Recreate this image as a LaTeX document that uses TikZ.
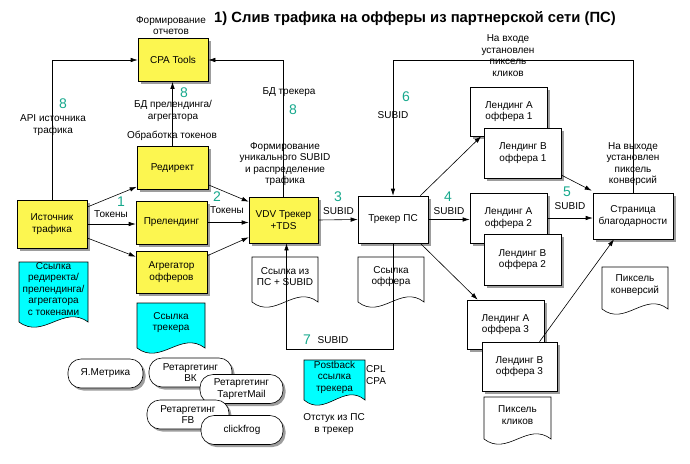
\documentclass[tikz,border=0pt]{standalone}
\usepackage{fontspec}
\setmainfont{Liberation Sans}
\usetikzlibrary{arrows.meta,shadows}

\definecolor{boxyellow}{RGB}{252,246,80}
\definecolor{linkcyan}{RGB}{0,255,255}
\definecolor{numgreen}{RGB}{22,168,140}

\tikzset{
  base/.style={draw, align=center, inner sep=1pt, line width=0.6pt,
    drop shadow={shadow xshift=2.5pt, shadow yshift=-2.5pt, fill=black!70, opacity=0.55}},
  ybox/.style={base, fill=boxyellow, minimum width=71pt, minimum height=44pt},
  wbox/.style={base, fill=white, minimum width=77pt, minimum height=50pt},
  pill/.style={base, fill=white, rounded corners=13pt, minimum width=83pt, minimum height=29pt},
  lbl/.style={align=center, inner sep=0pt},
  num/.style={text=numgreen, inner sep=0pt, font=\fontsize{14}{14}\selectfont},
  link/.style={line width=0.6pt, -{Latex[length=7pt,width=4.5pt]}},
  wire/.style={line width=0.6pt},
}

% document sheet with a wavy lower edge
\newcommand{\docsheet}[7]{%
  \pgfmathsetmacro\dxa{#2+0.35*(#4-#2)}
  \pgfmathsetmacro\dxb{#4-0.35*(#4-#2)}
  \pgfmathsetmacro\dym{(#3+#5)/2-3}
  \filldraw[wire, fill=#6] (#2,#3) -- (#4,#3) -- (#4,#5)
    .. controls (\dxb,#5-18) and (\dxa,#5+18) .. (#2,#5) -- cycle;
  \node[lbl] (#1) at ({(#2+#4)/2},\dym) {#7};
}

\begin{document}
\begin{tikzpicture}[x=1pt, y=-1pt, font=\fontsize{10}{11.5}\selectfont]
  \useasboundingbox (0,0) rectangle (690,463);

  \node[lbl, font=\fontsize{14.8}{17}\selectfont\bfseries] (title) at (415,19)
    {1) Слив трафика на офферы из партнерской сети (ПС)};
  \node[lbl] (reports) at (171,25.5) {Формирование\\отчетов};

  \node[ybox, minimum width=70pt, minimum height=43pt] (cpa) at (173,60) {CPA Tools};
  \node[ybox, minimum width=70pt, minimum height=48pt] (src) at (52,224) {Источник\\трафика};
  \node[ybox, minimum height=43pt] (redir) at (172.5,168) {Редирект};
  \node[ybox, minimum height=43pt] (prel) at (171.5,222.5) {Прелендинг};
  \node[ybox, minimum height=42pt] (agr) at (171.5,272) {Агрегатор\\офферов};
  \node[ybox, minimum width=69pt, minimum height=46pt] (vdv) at (283.5,220) {VDV Трекер\\+TDS};

  \node[wbox, minimum width=70pt, minimum height=47pt] (tps) at (393,219.5) {Трекер ПС};
  \node[wbox, minimum height=49pt] (la1) at (509,111.5) {Лендинг A\\оффера 1};
  \node[wbox] (lb1) at (523,153) {Лендинг B\\оффера 1};
  \node[wbox] (la2) at (508.5,218) {Лендинг A\\оффера 2};
  \node[wbox, minimum height=51pt] (lb2) at (522.5,259.5) {Лендинг B\\оффера 2};
  \node[wbox, minimum height=49pt] (la3) at (505.5,324.5) {Лендинг A\\оффера 3};
  \node[wbox, minimum width=75pt, minimum height=49pt] (lb3) at (519.5,366.5) {Лендинг B\\оффера 3};
  \node[wbox, minimum width=80pt, minimum height=46pt] (thx) at (633,216) {Страница\\благодарности};

  \docsheet{dredir}{19}{262}{88}{322}{linkcyan}{Ссылка\\редиректа/\\прелендинга/\\агрегатора\\с токенами}
  \docsheet{dtrk}{137}{303}{205}{348}{linkcyan}{Ссылка\\трекера}
  \docsheet{dsub}{252}{257}{318}{302}{white}{Ссылка из\\ПС + SUBID}
  \docsheet{doffer}{358}{257}{424}{302}{white}{Ссылка\\оффера}
  \docsheet{dconv}{602}{267}{668}{309}{white}{Пиксель\\конверсий}
  \docsheet{dclick}{484}{397}{551}{439}{white}{Пиксель\\кликов}
  \docsheet{dpost}{304}{360}{365}{400}{linkcyan}{Postback\\ссылка\\трекера}

  \node[pill, minimum width=75pt] (ym) at (105.5,373.5) {Я.Метрика};
  \node[pill] (rvk) at (190.5,372.5) {Ретаргетинг\\ВК};
  \node[pill] (rtm) at (241.5,389) {Ретаргетинг\\ТаргетMail};
  \node[pill, minimum width=82pt] (rfb) at (188,414.5) {Ретаргетинг\\FB};
  \node[pill, minimum width=82pt] (cf) at (242,430) {clickfrog};

  % sources -> tokens -> tracker
  \draw[link] ([yshift=17pt]src.east) -- ([yshift=3pt]redir.south west);
  \draw[link] (src.east) -- (src.east -| prel.west);
  \draw[link] ([yshift=-14pt]src.east) -- ([yshift=-6pt]agr.north west);
  \draw[link] ([yshift=5pt]redir.south east) -- ([yshift=-5pt]vdv.north west);
  \draw[link] (prel.east) -- (prel.east -| vdv.west);
  \draw[link] ([yshift=-5pt]agr.north east) -- ([yshift=6pt]vdv.south west);
  \draw[link] (vdv.east) -- (tps.west);

  \draw[link] (tps.east) -- (tps.east -| la2.west);
  \draw[link] ([xshift=-8pt]tps.north east) -- ([xshift=11pt]la1.south west);
  \draw[link] ([xshift=-8pt]tps.south east) -- ([xshift=11pt]la3.north west);
  \draw[link] ([yshift=3pt]lb1.south east) -- ([shift={(-1pt,2pt)}]thx.north west);
  \draw[link] (la2.east) -- (la2.east -| thx.west);
  \draw[link] ([xshift=20pt]lb3.north) -- ([xshift=-19pt]thx.south);

  % postback loops
  \coordinate (topline) at (0,60);
  \coordinate (botline) at (0,349);
  \draw[link] (thx.north) -- (thx.north |- topline) -- (tps.north |- topline) -- (tps.north);
  \draw[link] (tps.south) -- (tps.south |- botline)
    -- ([xshift=3pt]vdv.south |- botline) -- ([xshift=3pt]vdv.south);

  % reporting to CPA Tools
  \draw[link] (src.north) |- (cpa.west);
  \draw[link] (redir.north) -- (redir.north |- cpa.south);
  \draw[link] (vdv.north) |- (cpa.east);

  \node[num] (n8a) at (63,104) {8};
  \node[lbl] (api) at (53,125) {API источника\\трафика};
  \node[num] (n8b) at (184,93) {8};
  \node[lbl] (dbprel) at (173,111) {БД прелендинга/\\агрегатора};
  \node[lbl] (tokproc) at (172,136) {Обработка токенов};
  \node[lbl] (dbtrk) at (289,92) {БД трекера};
  \node[num] (n8c) at (293,110) {8};
  \node[lbl] (subidgen) at (285,164) {Формирование\\уникального SUBID\\и распределение\\трафика};

  \node[num] (n1) at (121,201.5) {1};
  \node[lbl] (tok1) at (111,214) {Токены};
  \node[num] (n2) at (217,197) {2};
  \node[lbl] (tok2) at (227,210) {Токены};
  \node[num] (n3) at (338,197) {3};
  \node[lbl] (sub3) at (338.5,211) {SUBID};
  \node[num] (n4) at (448,197) {4};
  \node[lbl] (sub4) at (449,211) {SUBID};
  \node[num] (n5) at (567,192) {5};
  \node[lbl] (sub5) at (570,206) {SUBID};
  \node[num] (n6) at (406,97) {6};
  \node[lbl] (sub6) at (393,115) {SUBID};
  \node[num] (n7) at (307,340) {7};
  \node[lbl] (sub7) at (333,340) {SUBID};

  \node[lbl] (pixin) at (508,55.5) {На входе\\установлен\\пиксель\\кликов};
  \node[lbl] (pixout) at (633,164) {На выходе\\установлен\\пиксель\\конверсий};
  \node[lbl, align=left, anchor=west] (cplcpa) at (366,375) {CPL\\CPA};
  \node[lbl] (callback) at (334,424) {Отстук из ПС\\в трекер};
\end{tikzpicture}
\end{document}
